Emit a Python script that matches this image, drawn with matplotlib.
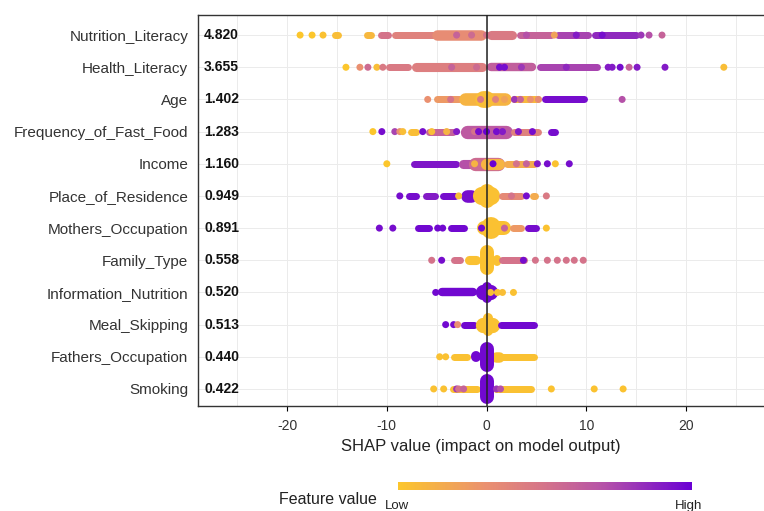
import numpy as np
import matplotlib.pyplot as plt
from matplotlib.colors import LinearSegmentedColormap, Normalize
from matplotlib.colorbar import ColorbarBase
from matplotlib.ticker import MultipleLocator

plt.rcParams['font.family'] = ['Liberation Sans', 'DejaVu Sans']
plt.rcParams['axes.unicode_minus'] = False

features = ['Nutrition_Literacy', 'Health_Literacy', 'Age', 'Frequency_of_Fast_Food',
            'Income', 'Place_of_Residence', 'Mothers_Occupation', 'Family_Type',
            'Information_Nutrition', 'Meal_Skipping', 'Fathers_Occupation', 'Smoking']
importance = ['4.820', '3.655', '1.402', '1.283', '1.160', '0.949',
              '0.891', '0.558', '0.520', '0.513', '0.440', '0.422']

# dense stretches of the beeswarm: (shap from, shap to, feature value 0..1, points stacked)
# single points: (shap, feature value)
nutrition_runs = [(-15.5, -14.5, 0.05, 1), (-12.3, -11.2, 0.08, 1), (-10.9, -9.5, 0.5, 1),
                  (-9.5, -5.0, 0.4, 1), (-5.5, 0.0, 0.33, 1.5), (0.0, 3.0, 0.45, 1.3),
                  (3.0, 6.8, 0.6, 1), (6.8, 10.5, 0.75, 1), (10.5, 15.3, 0.85, 1)]
nutrition_dots = [(-18.7, 0.0), (-17.5, 0.0), (-16.4, 0.03), (-3.0, 0.6), (-1.5, 0.55),
                  (0.0, 0.5), (4.0, 0.7), (6.8, 0.2), (9.0, 0.9), (11.6, 0.95),
                  (15.5, 0.8), (16.3, 0.7), (17.6, 0.6)]

health_runs = [(-10.1, -7.5, 0.45, 1), (-7.5, 0.0, 0.42, 1.3), (0.0, 5.0, 0.62, 1.2),
               (5.0, 11.4, 0.75, 1)]
health_dots = [(-14.1, 0.0), (-12.7, 0.3), (-11.9, 0.55), (-11.0, 0.05), (-10.4, 0.45),
               (-3.5, 0.6), (-1.0, 0.55), (1.3, 0.95), (1.8, 0.95), (3.5, 0.8), (8.0, 0.85),
               (12.2, 0.9), (12.6, 0.9), (13.4, 0.95), (14.3, 0.6), (15.1, 0.9),
               (17.9, 0.9), (23.8, 0.05)]

age_runs = [(-5.3, -2.4, 0.25, 1), (-2.8, 2.5, 0.1, 1.8), (-1.2, 0.8, 0.05, 2.4),
            (2.4, 5.5, 0.08, 1), (5.5, 10.1, 0.95, 1)]
age_dots = [(-5.9, 0.3), (-3.6, 0.5), (-2.2, 0.1), (-0.6, 0.45), (0.9, 0.4), (1.8, 0.2),
            (2.8, 0.8), (3.4, 0.6), (4.4, 0.3), (5.2, 0.35), (13.6, 0.7)]

fastfood_runs = [(-7.9, -6.7, 0.05, 1), (-6.1, -3.0, 0.6, 1), (-2.6, 2.6, 0.65, 1.9),
                 (2.4, 5.5, 0.4, 1), (6.1, 7.2, 0.95, 1)]
fastfood_dots = [(-11.4, 0.0), (-10.5, 0.95), (-9.2, 0.75), (-8.7, 0.3), (-8.4, 0.05),
                 (-6.4, 0.95), (-5.5, 0.05), (-4.0, 0.1), (-3.0, 0.9), (-1.2, 0.5),
                 (-0.8, 0.95), (0.0, 1.0), (1.0, 0.95), (1.6, 0.9), (3.2, 0.9), (4.6, 0.95)]

income_runs = [(-7.6, -2.7, 0.92, 1), (-2.8, -1.0, 0.7, 1.3), (-1.8, 1.8, 0.55, 1.9),
               (-0.6, 1.8, 0.1, 1.6), (1.7, 5.1, 0.15, 1)]
income_dots = [(-10.0, 0.0), (-1.2, 0.1), (0.65, 1.0), (3.0, 0.5), (4.0, 0.6),
               (5.1, 0.9), (6.1, 0.95), (6.9, 0.02), (8.3, 0.95)]

place_runs = [(-8.1, -6.7, 0.95, 1), (-6.4, -4.8, 0.9, 1), (-4.7, -2.8, 0.95, 1),
              (-2.6, -0.9, 0.95, 1.8), (-1.4, 1.4, 0.03, 2.6), (-0.8, 0.8, 0.03, 3.3),
              (1.2, 3.8, 0.35, 1), (4.3, 5.2, 0.15, 1)]
place_dots = [(-8.7, 0.95), (-2.8, 0.05), (2.5, 0.5), (4.0, 0.95), (6.0, 0.45)]

mothers_runs = [(-7.2, -5.4, 0.97, 1), (-3.9, -1.9, 0.97, 1), (-1.8, -0.9, 0.6, 1.3),
                (-1.0, 0.2, 0.97, 1.8), (-1.0, 2.5, 0.03, 2.0), (-0.6, 1.4, 0.03, 3.2),
                (2.3, 3.8, 0.25, 1), (3.8, 5.3, 0.95, 1)]
mothers_dots = [(-10.75, 0.95), (-9.4, 0.95), (-4.9, 0.97), (-4.4, 0.97), (-0.5, 0.97),
                (1.8, 0.6), (6.0, 0.02)]

family_runs = [(-3.6, -2.3, 0.5, 1), (-2.2, -0.6, 0.03, 1.3), (-0.7, 0.7, 0.02, 4.3),
               (0.6, 1.4, 0.03, 1.6), (1.2, 4.1, 0.5, 1)]
family_dots = [(-5.5, 0.5), (-4.5, 0.95), (3.7, 0.95), (4.9, 0.5), (6.1, 0.5),
               (7.1, 0.5), (8.0, 0.5), (8.8, 0.5), (9.7, 0.5)]

info_runs = [(-4.9, -0.9, 0.97, 1.2), (-1.1, 1.1, 0.97, 2.2), (-0.5, 0.5, 0.97, 3.1)]
info_dots = [(-5.1, 0.97), (0.4, 0.05), (1.1, 0.03), (1.6, 0.05), (2.7, 0.03)]

meal_runs = [(-2.6, -0.9, 0.97, 1), (-1.1, 1.3, 0.03, 2.2), (-0.4, 0.6, 0.03, 3.3),
             (1.1, 5.1, 0.97, 1)]
meal_dots = [(-4.1, 0.97), (-3.3, 0.95), (-2.9, 0.3)]

fathers_runs = [(-3.6, -1.6, 0.03, 1), (-1.6, -0.6, 0.97, 1.6), (0.4, 5.1, 0.03, 1),
                (0.4, 1.8, 0.03, 1.5), (-0.7, 0.7, 0.97, 4.2)]
fathers_dots = [(-4.7, 0.03), (-4.1, 0.03)]

smoking_runs = [(-3.7, -0.6, 0.03, 1), (0.6, 4.8, 0.03, 1), (-0.7, 0.7, 0.97, 4.3)]
smoking_dots = [(-5.3, 0.03), (-4.3, 0.03), (-3.0, 0.8), (-2.8, 0.5), (-2.3, 0.6),
                (1.0, 0.8), (1.4, 0.7), (6.5, 0.02), (10.8, 0.02), (13.7, 0.02)]

all_runs = [nutrition_runs, health_runs, age_runs, fastfood_runs, income_runs, place_runs,
            mothers_runs, family_runs, info_runs, meal_runs, fathers_runs, smoking_runs]
all_dots = [nutrition_dots, health_dots, age_dots, fastfood_dots, income_dots, place_dots,
            mothers_dots, family_dots, info_dots, meal_dots, fathers_dots, smoking_dots]

cmap = LinearSegmentedColormap.from_list(
    'shap', [(0, '#FCC62C'), (0.3, '#EA9070'), (0.5, '#D4738A'), (0.7, '#B552A8'), (1, '#6A00D4')])

W, H = 764, 511
top_px, bot_px, left_px = 14.5, 406, 198
fig = plt.figure(figsize=(W / 100, H / 100), dpi=100)
ax = fig.add_axes([left_px / W, 1 - bot_px / H, 1 - left_px / W, (bot_px - top_px) / H])
xmin, xmax = -28.94, 27.83
ymin, ymax = 0.47, 12.64
ax.set_xlim(xmin, xmax)
ax.set_ylim(ymin, ymax)

sx = (W - left_px) / (xmax - xmin)      # px per shap unit
sy = (bot_px - top_px) / (ymax - ymin)  # px per row unit
DOT = 7.0                                # dot diameter in px

def draw_run(y, x0, x1, fv, stack):
    h = stack * DOT
    w = (x1 - x0) * sx
    col = cmap(fv)
    if w >= h:
        r = h / 2 / sx
        ax.plot([x0 + r, x1 - r], [y, y], color=col, lw=h * 0.72,
                solid_capstyle='round', zorder=2)
    else:
        r = (h - w) / 2 / sy
        xc = (x0 + x1) / 2
        ax.plot([xc, xc], [y - r, y + r], color=col, lw=w * 0.72,
                solid_capstyle='round', zorder=2)

n = len(features)
for i in range(n):
    y = n - i
    for x0, x1, fv, st in all_runs[i]:
        draw_run(y, x0, x1, fv, st)
    d = np.array(all_dots[i])
    ax.scatter(d[:, 0], np.full(len(d), y), c=cmap(d[:, 1]), s=(DOT * 0.72) ** 2,
               linewidths=0, zorder=3)
    ax.text(6 / (W - left_px), y, importance[i], transform=ax.get_yaxis_transform(),
            ha='left', va='center', fontsize=10, fontweight='bold', color='#111111')

ax.axvline(0, color='#222222', lw=1.1, zorder=4)

ax.set_yticks(np.arange(n, 0, -1))
ax.set_yticklabels(features, fontsize=11, color='#333333')
ax.tick_params(axis='y', length=0, pad=7)
ax.set_xticks([-20, -10, 0, 10, 20])
ax.xaxis.set_minor_locator(MultipleLocator(5))
ax.tick_params(axis='x', which='major', length=3.6, width=0.8, labelsize=10,
               labelcolor='#333333', pad=6)
ax.tick_params(axis='x', which='minor', length=0)
ax.grid(True, which='both', color='#EBEBEB', lw=0.7, zorder=0)
ax.set_axisbelow(True)
ax.set_xlabel('SHAP value (impact on model output)', fontsize=12, color='#222222', labelpad=4)
for s in ['top', 'left', 'bottom']:
    ax.spines[s].set_color('#333333')
    ax.spines[s].set_linewidth(1.0)
ax.spines['right'].set_visible(False)

cax = fig.add_axes([398 / W, 1 - 490 / H, (692 - 398) / W, 8 / H])
cb = ColorbarBase(cax, cmap=cmap, norm=Normalize(0, 1), orientation='horizontal')
cb.outline.set_visible(False)
cb.set_ticks([])
fig.text(328 / W, 1 - 499 / H, 'Feature value', ha='center', va='center',
         fontsize=11.5, color='#222222')
fig.text(385 / W, 1 - 506 / H, 'Low', ha='left', va='center', fontsize=9.5, color='#222222')
fig.text(689 / W, 1 - 506 / H, 'High', ha='center', va='center', fontsize=9.5, color='#222222')

fig.savefig('out.png', dpi=100)
